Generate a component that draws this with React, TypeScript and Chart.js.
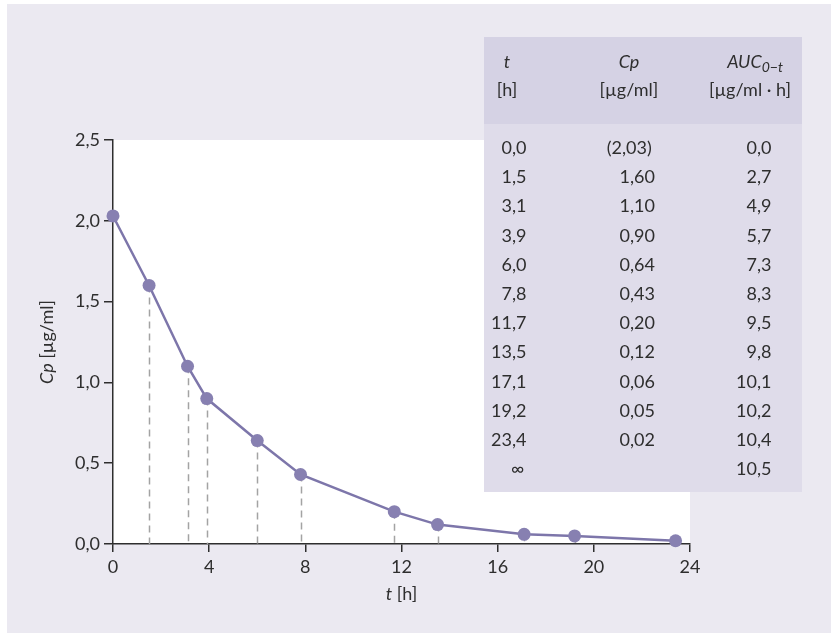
import React, { useEffect, useRef } from "react";
import { Chart, registerables } from "chart.js";

Chart.register(...registerables);

const timesH = [0, 1.5, 3.1, 3.9, 6.0, 7.8, 11.7, 13.5, 17.1, 19.2, 23.4];
const cpValues = [2.03, 1.6, 1.1, 0.9, 0.64, 0.43, 0.2, 0.12, 0.06, 0.05, 0.02];

const tableT = ["0,0", "1,5", "3,1", "3,9", "6,0", "7,8", "11,7", "13,5", "17,1", "19,2", "23,4", "∞"];
const tableCp = ["(2,03)", "1,60", "1,10", "0,90", "0,64", "0,43", "0,20", "0,12", "0,06", "0,05", "0,02", ""];
const tableAuc = ["0,0", "2,7", "4,9", "5,7", "7,3", "8,3", "9,5", "9,8", "10,1", "10,2", "10,4", "10,5"];

const FONT = "Lato, 'Open Sans', sans-serif";
const FS = 18;
const TEXT = "#2e2e2e";
const LINE = "#7d76aa";
const POINT = "#8780b1";

function DecCell({ value, commaX }: { value: string; commaX: number }) {
  if (!value) return null;
  const idx = value.indexOf(",");
  if (idx < 0) {
    return (
      <span style={{ position: "absolute", left: commaX - 1, top: 0 }}>{value}</span>
    );
  }
  const cx = value.startsWith("(") ? commaX - 8 : commaX;
  const left = value.slice(0, idx);
  const right = value.slice(idx);
  return (
    <>
      <span style={{ position: "absolute", right: `calc(100% - ${cx}px)`, top: 0, textAlign: "right" }}>{left}</span>
      <span style={{ position: "absolute", left: cx, top: 0 }}>{right}</span>
    </>
  );
}

export default function App() {
  const canvasRef = useRef<HTMLCanvasElement | null>(null);

  useEffect(() => {
    const canvas = canvasRef.current;
    if (!canvas) return;

    const plotBg = {
      id: "plotBg",
      beforeDraw(chart: any) {
        const { ctx, chartArea } = chart;
        ctx.save();
        ctx.fillStyle = "#ffffff";
        ctx.fillRect(chartArea.left, chartArea.top, chartArea.right - chartArea.left, chartArea.bottom - chartArea.top);
        ctx.restore();
      },
    };

    const dropLines = {
      id: "dropLines",
      beforeDatasetsDraw(chart: any) {
        const { ctx } = chart;
        const xs = chart.scales.x;
        const ys = chart.scales.y;
        ctx.save();
        ctx.strokeStyle = "#a3a3a3";
        ctx.lineWidth = 1.5;
        ctx.setLineDash([7, 5]);
        for (let i = 1; i < timesH.length; i++) {
          const x = Math.round(xs.getPixelForValue(timesH[i])) + 0.5;
          const y = ys.getPixelForValue(cpValues[i]);
          const y0 = ys.getPixelForValue(0);
          ctx.beginPath();
          ctx.moveTo(x, y);
          ctx.lineTo(x, y0);
          ctx.stroke();
        }
        ctx.restore();
      },
    };

    const axisTitles = {
      id: "axisTitles",
      afterDraw(chart: any) {
        const { ctx, chartArea } = chart;
        ctx.save();
        ctx.fillStyle = TEXT;
        ctx.textBaseline = "middle";
        const it = `italic ${FS}px ${FONT}`;
        const nt = `${FS}px ${FONT}`;
        const cx = (chartArea.left + chartArea.right) / 2;
        ctx.font = it;
        const w1 = ctx.measureText("t").width;
        ctx.font = nt;
        const w2 = ctx.measureText(" [h]").width;
        let sx = cx - (w1 + w2) / 2;
        const ty = 594;
        ctx.textAlign = "left";
        ctx.font = it;
        ctx.fillText("t", sx, ty);
        ctx.font = nt;
        ctx.fillText(" [h]", sx + w1, ty);
        const cy = (chartArea.top + chartArea.bottom) / 2;
        ctx.translate(47, cy);
        ctx.rotate(-Math.PI / 2);
        ctx.font = it;
        const v1 = ctx.measureText("Cp").width;
        ctx.font = nt;
        const v2 = ctx.measureText(" [µg/ml]").width;
        sx = -(v1 + v2) / 2;
        ctx.font = it;
        ctx.fillText("Cp", sx, 0);
        ctx.font = nt;
        ctx.fillText(" [µg/ml]", sx + v1, 0);
        ctx.restore();
      },
    };

    const chart = new Chart(canvas, {
      type: "line",
      data: {
        datasets: [
          {
            data: timesH.map((t, i) => ({ x: t, y: cpValues[i] })),
            borderColor: LINE,
            borderWidth: 2.5,
            backgroundColor: POINT,
            pointBackgroundColor: POINT,
            pointBorderColor: POINT,
            pointRadius: 6.5,
            pointBorderWidth: 0,
            tension: 0,
            clip: false as any,
          },
        ],
      },
      options: {
        animation: false,
        responsive: true,
        maintainAspectRatio: false,
        layout: { padding: { left: 0, right: 141, top: 140, bottom: 0 } },
        plugins: { legend: { display: false }, tooltip: { enabled: false } },
        scales: {
          x: {
            type: "linear",
            min: 0,
            max: 24,
            afterFit(scale: any) {
              scale.height = 89;
            },
            ticks: {
              stepSize: 4,
              color: TEXT,
              font: { family: FONT, size: FS },
              padding: 4,
              maxRotation: 0,
            },
            grid: { drawOnChartArea: false, drawTicks: true, tickLength: 8, color: TEXT, lineWidth: 1.5 },
            border: { display: true, color: TEXT, width: 1.5 },
          },
          y: {
            type: "linear",
            min: 0,
            max: 2.5,
            afterFit(scale: any) {
              scale.width = 113;
            },
            ticks: {
              stepSize: 0.5,
              color: TEXT,
              font: { family: FONT, size: FS },
              padding: 4,
              callback: (v: any) => Number(v).toFixed(1).replace(".", ","),
            },
            grid: { drawOnChartArea: false, drawTicks: true, tickLength: 9, color: TEXT, lineWidth: 1.5 },
            border: { display: true, color: TEXT, width: 1.5 },
          },
        },
      },
      plugins: [plotBg, dropLines, axisTitles],
    });

    return () => chart.destroy();
  }, []);

  const rowTop = 136;
  const rowH = 29.2;

  return (
    <div style={{ position: "fixed", left: 0, top: 0, width: 831, height: 633, background: "#ffffff", overflow: "hidden", fontFamily: FONT, color: TEXT }}>
      <div style={{ position: "absolute", left: 7, top: 4, width: 824, height: 629, background: "#ebe9f1" }} />
      <div style={{ position: "absolute", left: 0, top: 0, width: 831, height: 633 }}>
        <canvas ref={canvasRef} />
      </div>
      <div style={{ position: "absolute", left: 484, top: 37, width: 318, height: 87, background: "#d5d2e4" }} />
      <div style={{ position: "absolute", left: 484, top: 124, width: 318, height: 368, background: "#dfdcea" }} />
      <div style={{ position: "absolute", left: 0, top: 0, width: 831, height: 633, fontSize: FS, lineHeight: "22px", pointerEvents: "none" }}>
        <div style={{ position: "absolute", left: 457, width: 100, top: 50, textAlign: "center", fontStyle: "italic" }}>t</div>
        <div style={{ position: "absolute", left: 457, width: 100, top: 78, textAlign: "center" }}>[h]</div>
        <div style={{ position: "absolute", left: 579, width: 100, top: 50, textAlign: "center", fontStyle: "italic" }}>Cp</div>
        <div style={{ position: "absolute", left: 579, width: 100, top: 78, textAlign: "center" }}>[µg/ml]</div>
        <div style={{ position: "absolute", left: 705, width: 100, top: 50, textAlign: "center", fontStyle: "italic" }}>
          AUC<sub style={{ fontSize: 14, lineHeight: "14px", verticalAlign: "-4px" }}>0−t</sub>
        </div>
        <div style={{ position: "absolute", left: 690, width: 120, top: 78, textAlign: "center" }}>[µg/ml · h]</div>
        {tableT.map((v, i) => (
          <div key={i} style={{ position: "absolute", left: 0, top: rowTop + i * rowH, width: 831, height: 24 }}>
            <DecCell value={v} commaX={512} />
            <DecCell value={tableCp[i]} commaX={630} />
            <DecCell value={tableAuc[i]} commaX={757} />
          </div>
        ))}
      </div>
    </div>
  );
}
